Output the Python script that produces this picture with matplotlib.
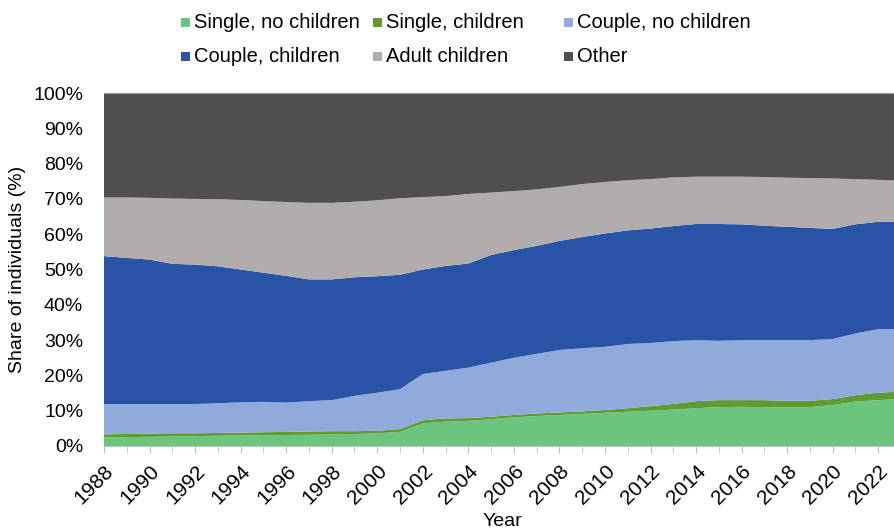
import matplotlib
matplotlib.use("Agg")
import matplotlib.pyplot as plt
from matplotlib.patches import Rectangle

plt.rcParams['font.family'] = ['Liberation Sans', 'DejaVu Sans']

# Data: share of individuals (%) by household type, 1988-2023
years = list(range(1988, 2024))
single_no_children = [2.4, 2.5, 2.6, 2.7, 2.8, 2.9, 3.0, 3.0, 3.1, 3.2, 3.3, 3.4,
                      3.6, 4.0, 6.4, 6.9, 7.1, 7.6, 8.1, 8.5, 8.8, 9.1, 9.4, 9.7,
                      10.0, 10.3, 10.7, 11.0, 11.1, 11.0, 11.0, 11.0, 11.6, 12.6, 13.0, 13.3]
single_children = [0.9, 0.9, 0.9, 0.9, 0.8, 0.8, 0.8, 0.9, 0.9, 0.9, 0.9, 0.8,
                   0.7, 0.8, 0.9, 0.9, 0.8, 0.7, 0.7, 0.7, 0.7, 0.7, 0.8, 1.0,
                   1.3, 1.6, 2.0, 2.0, 1.9, 2.0, 1.8, 1.8, 1.7, 1.8, 2.1, 2.1]
couple_no_children = [8.6, 8.5, 8.4, 8.3, 8.3, 8.4, 8.6, 8.6, 8.3, 8.6, 8.8, 10.0,
                      10.8, 11.3, 13.1, 13.5, 14.3, 15.3, 16.2, 16.9, 17.7, 17.9, 17.9, 18.2,
                      17.9, 17.8, 17.3, 16.8, 17.0, 17.0, 17.2, 17.2, 17.0, 17.5, 18.0, 17.7]
couple_children = [41.9, 41.4, 40.9, 39.7, 39.5, 38.8, 37.6, 36.6, 35.9, 34.5, 34.2, 33.6,
                   33.0, 32.4, 29.6, 29.7, 29.5, 30.5, 30.5, 30.6, 30.9, 31.5, 32.1, 32.2,
                   32.4, 32.6, 32.9, 33.1, 32.8, 32.4, 32.1, 31.8, 31.2, 30.9, 30.4, 30.4]
adult_children = [16.6, 17.1, 17.5, 18.5, 18.6, 19.0, 19.7, 20.3, 20.9, 21.7, 21.7, 21.4,
                  21.5, 21.7, 20.5, 19.8, 19.7, 17.7, 16.7, 16.0, 15.3, 15.0, 14.6, 14.2,
                  14.0, 13.8, 13.4, 13.4, 13.5, 13.8, 13.9, 14.1, 14.3, 12.8, 11.9, 11.7]
other = [29.6, 29.6, 29.7, 29.9, 30.0, 30.1, 30.3, 30.6, 30.9, 31.1, 31.1, 30.8,
         30.4, 29.8, 29.5, 29.2, 28.6, 28.2, 27.8, 27.3, 26.6, 25.8, 25.2, 24.7,
         24.4, 23.9, 23.7, 23.7, 23.7, 23.8, 24.0, 24.1, 24.2, 24.4, 24.6, 24.8]

labels = ["Single, no children", "Single, children", "Couple, no children",
          "Couple, children", "Adult children", "Other"]
colors = ["#6CC57E", "#5F9A33", "#8FAADB", "#2953A7", "#B0ADAC", "#4F4F4F"]

fig = plt.figure(figsize=(8.95, 5.30), dpi=100)
ax = fig.add_axes([0.1162, 0.1585, 0.8905, 0.666])

ax.stackplot(years, single_no_children, single_children, couple_no_children,
             couple_children, adult_children, other, colors=colors, linewidth=0)

ax.set_xlim(1988, 2023)
ax.set_ylim(0, 100)
ax.set_yticks(range(0, 101, 10))
ax.set_yticklabels([f"{v}%" for v in range(0, 101, 10)], fontsize=14)
ax.set_xticks(range(1988, 2023, 2))
ax.set_xticklabels([str(y) for y in range(1988, 2023, 2)], fontsize=15,
                   rotation=45, ha='right', rotation_mode='anchor')
ax.set_xticks(range(1988, 2024), minor=True)
ax.tick_params(axis='y', length=0, pad=15)
ax.tick_params(axis='x', which='both', length=5, color='#BFBFBF', pad=6)

for side in ['left', 'right']:
    ax.spines[side].set_visible(False)
ax.spines['bottom'].set_color('#BFBFBF')
ax.spines['top'].set_color('#9A9A9A')
ax.spines['top'].set_linewidth(0.8)

ax.set_xlabel("Year", fontsize=14, labelpad=4)
ax.set_ylabel("Share of individuals (%)", fontsize=14, labelpad=5)

# legend laid out like the original: 3 columns, 2 rows
col_x = [185, 377, 568]
row_y = [22, 56]
W, H = 895.0, 530.0
for i, (lab, col) in enumerate(zip(labels, colors)):
    cx = col_x[i % 3]
    cy = row_y[i // 3]
    fig.patches.append(Rectangle(((cx - 4) / W, 1 - (cy + 4.5) / H), 9 / W, 9 / H,
                                 transform=fig.transFigure, facecolor=col,
                                 edgecolor='none'))
    fig.text((cx + 9) / W, 1 - cy / H, lab, fontsize=14.5, va='center', ha='left')

fig.savefig("out.png", dpi=100)
